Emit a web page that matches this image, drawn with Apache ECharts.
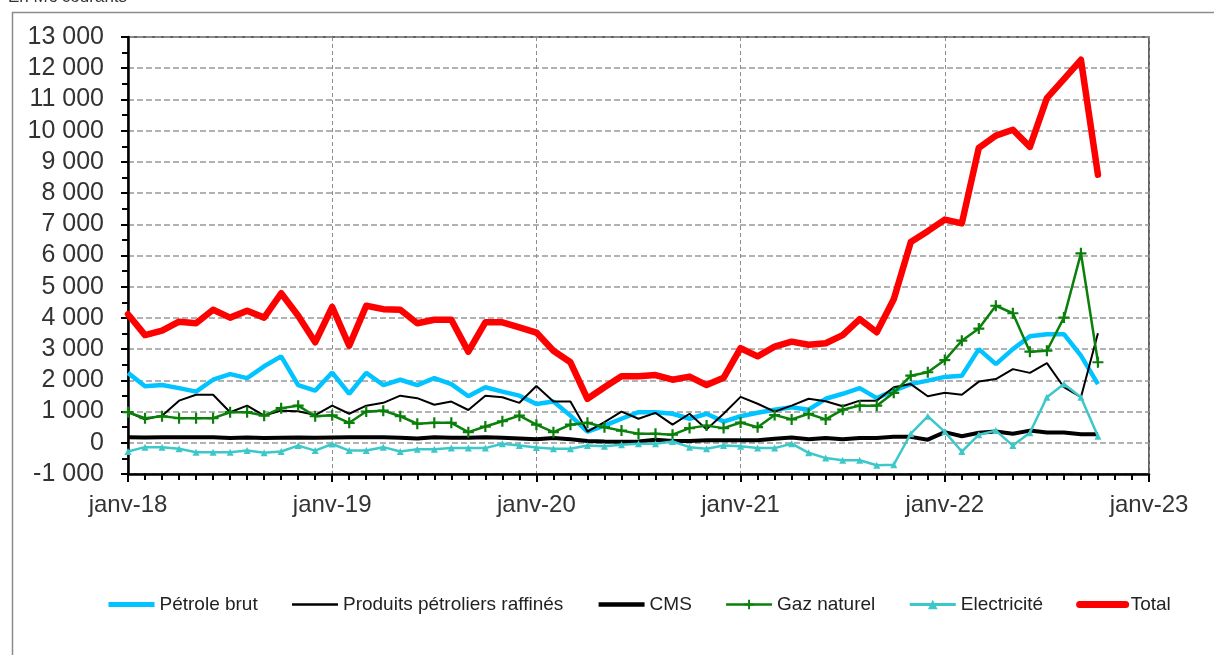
<!DOCTYPE html>
<html>
<head>
<meta charset="utf-8">
<script src="https://cdn.jsdelivr.net/npm/echarts@6/dist/echarts.min.js"></script>
<style>
  html, body { margin: 0; padding: 0; background: #fff; }
  #chart { width: 1214px; height: 655px; }
</style>
</head>
<body>
<div id="chart"></div>
<script>
// monthly values, janv-18 .. oct-22, M€ courants
const years = ["18", "19", "20", "21", "22", "23"];

const petroleBrut = [
  2240, 1810, 1850, 1750, 1640, 2020, 2200, 2070, 2450, 2770, 1850, 1670,
  2250, 1570, 2240, 1850, 2020, 1850, 2070, 1880, 1490, 1780, 1640, 1510,
  1240, 1320, 870, 360, 550, 770, 980, 980, 930, 770, 930, 680,
  850, 960, 1060, 1140, 1060, 1410, 1570, 1750, 1430, 1670, 1880, 1990,
  2110, 2150, 3000, 2520, 3000, 3410, 3480, 3480, 2790, 1880
];
const produitsRaffines = [
  980, 750, 870, 1350, 1540, 1540, 980, 1190, 870, 1030, 1010, 890,
  1190, 930, 1190, 1280, 1510, 1430, 1220, 1320, 1050, 1510, 1460, 1280,
  1820, 1320, 1320, 360, 660, 1000, 770, 960, 580, 930, 430, 930,
  1470, 1250, 1000, 1190, 1410, 1330, 1170, 1350, 1350, 1780, 1880, 1490,
  1600, 1540, 1960, 2040, 2360, 2240, 2550, 1780, 1460, 3510
];
const cms = [
  180, 170, 180, 180, 180, 180, 150, 170, 150, 160, 170, 160,
  170, 180, 180, 180, 160, 140, 180, 160, 160, 180, 160, 140,
  110, 150, 110, 60, 40, 30, 40, 100, 60, 60, 80, 80,
  80, 80, 130, 170, 110, 150, 110, 150, 150, 190, 190, 100,
  340, 210, 320, 360, 290, 390, 330, 330, 270, 270
];
const gazNaturel = [
  980, 790, 850, 790, 790, 790, 980, 980, 870, 1110, 1190, 850,
  880, 640, 1000, 1030, 850, 610, 640, 640, 340, 520, 690, 870,
  580, 340, 580, 640, 500, 390, 290, 290, 260, 470, 550, 470,
  650, 500, 890, 750, 930, 750, 1060, 1190, 1190, 1600, 2150, 2260,
  2650, 3270, 3660, 4390, 4150, 2920, 2950, 4010, 6070, 2580
];
const electricite = [
  -280, -140, -140, -190, -300, -300, -300, -250, -320, -280, -90, -250,
  -40, -250, -250, -140, -280, -210, -210, -170, -170, -170, -30, -90,
  -150, -190, -190, -90, -110, -60, -30, -30, 40, -140, -190, -90,
  -110, -170, -170, -30, -320, -490, -560, -560, -720, -700, 290, 850,
  350, -280, 260, 390, -90, 320, 1460, 1880, 1460, 210
];
const total = [
  4120, 3450, 3590, 3880, 3830, 4260, 4010, 4230, 4010, 4790, 4070, 3220,
  4350, 3110, 4390, 4280, 4260, 3830, 3940, 3940, 2920, 3860, 3860, 3700,
  3530, 2950, 2580, 1410, 1780, 2130, 2130, 2170, 2020, 2120, 1850, 2080,
  3030, 2770, 3080, 3240, 3140, 3190, 3450, 3960, 3540, 4600, 6430, 6780,
  7150, 7030, 9450, 9840, 10030, 9480, 11040, 11650, 12270, 8590
];

const withIndex = arr => arr.map((v, i) => [i, v]);
const fmtThousands = v => {
  const s = Math.abs(v).toString().replace(/\B(?=(\d{3})+(?!\d))/g, " ");
  return (v < 0 ? "-" : "") + s;
};

const plusSymbol = "path://M4,0h2v4h4v2h-4v4h-2v-4h-4v-2h4z";
const font = "'Liberation Sans', Arial, sans-serif";
const noMarker = { opacity: 0 };

const chart = echarts.init(document.getElementById("chart"));
chart.setOption({
  animation: false,
  textStyle: { fontFamily: font },
  graphic: [
    {
      type: "rect",
      left: 10, top: 10,
      shape: { width: 1260, height: 700 },
      style: { fill: "none", stroke: "#8c8c8c", lineWidth: 1.5 },
      silent: true
    },
    {
      type: "text",
      left: 8, top: -11,
      style: { text: "En M€ courants", font: "17px " + font, fill: "#333" }
    }
  ],
  grid: {
    left: 128, right: 65, top: 37, bottom: 181,
    show: true, borderColor: "#333", borderWidth: 1.5
  },
  legend: {
    left: 101, top: 590,
    itemWidth: 46, itemHeight: 12, itemGap: 33,
    textStyle: { fontSize: 19, color: "#222", fontFamily: font },
    data: [
      { name: "Pétrole brut", itemStyle: noMarker, lineStyle: { width: 5 } },
      { name: "Produits pétroliers raffinés", itemStyle: noMarker, lineStyle: { width: 2.5 } },
      { name: "CMS", itemStyle: noMarker, lineStyle: { width: 4.5 } },
      { name: "Gaz naturel", lineStyle: { width: 2.5 } },
      { name: "Electricité", lineStyle: { width: 3 } },
      { name: "Total", itemStyle: noMarker, lineStyle: { width: 7, cap: "round" } }
    ]
  },
  xAxis: {
    type: "value",
    min: 0, max: 60, interval: 12,
    axisLine: { onZero: false, lineStyle: { color: "#000", width: 2.5 } },
    axisTick: { length: 8, lineStyle: { color: "#000", width: 2 } },
    minorTick: { show: true, splitNumber: 12, length: 6, lineStyle: { color: "#000", width: 2 } },
    axisLabel: {
      margin: 19, fontSize: 24, color: "#333",
      formatter: v => "janv-" + years[v / 12]
    },
    splitLine: { show: true, lineStyle: { type: [4, 3], color: "#8c8c8c", width: 1 } }
  },
  yAxis: {
    type: "value",
    min: -1000, max: 13000, interval: 1000,
    axisLine: { show: true, onZero: false, lineStyle: { color: "#000", width: 2.5 } },
    axisTick: { show: true, length: 7, lineStyle: { color: "#000", width: 2 } },
    minorTick: { show: true, splitNumber: 2, length: 6, lineStyle: { color: "#000", width: 2 } },
    axisLabel: { margin: 24, fontSize: 25, color: "#333", formatter: fmtThousands },
    splitLine: { lineStyle: { type: [6, 3], color: "#999", width: 1.5 } }
  },
  series: [
    {
      name: "Pétrole brut", type: "line", data: withIndex(petroleBrut),
      showSymbol: false, symbol: "none",
      itemStyle: { color: "#00c3ff" },
      lineStyle: { color: "#00c3ff", width: 4.5 }
    },
    {
      name: "Produits pétroliers raffinés", type: "line", data: withIndex(produitsRaffines),
      showSymbol: false, symbol: "none",
      itemStyle: { color: "#000" },
      lineStyle: { color: "#000", width: 2 }
    },
    {
      name: "CMS", type: "line", data: withIndex(cms),
      showSymbol: false, symbol: "none",
      itemStyle: { color: "#000" },
      lineStyle: { color: "#000", width: 4 }
    },
    {
      name: "Gaz naturel", type: "line", data: withIndex(gazNaturel),
      symbol: plusSymbol, symbolSize: 11,
      itemStyle: { color: "#0a800a" },
      lineStyle: { color: "#0a800a", width: 2.5 }
    },
    {
      name: "Electricité", type: "line", data: withIndex(electricite),
      symbol: "triangle", symbolSize: 7,
      itemStyle: { color: "#3cc8c8" },
      lineStyle: { color: "#3cc8c8", width: 2.5 }
    },
    {
      name: "Total", type: "line", data: withIndex(total),
      showSymbol: false, symbol: "none",
      itemStyle: { color: "#ff0000" },
      lineStyle: { color: "#ff0000", width: 6.5, cap: "round", join: "round" }
    }
  ]
});
</script>
</body>
</html>
